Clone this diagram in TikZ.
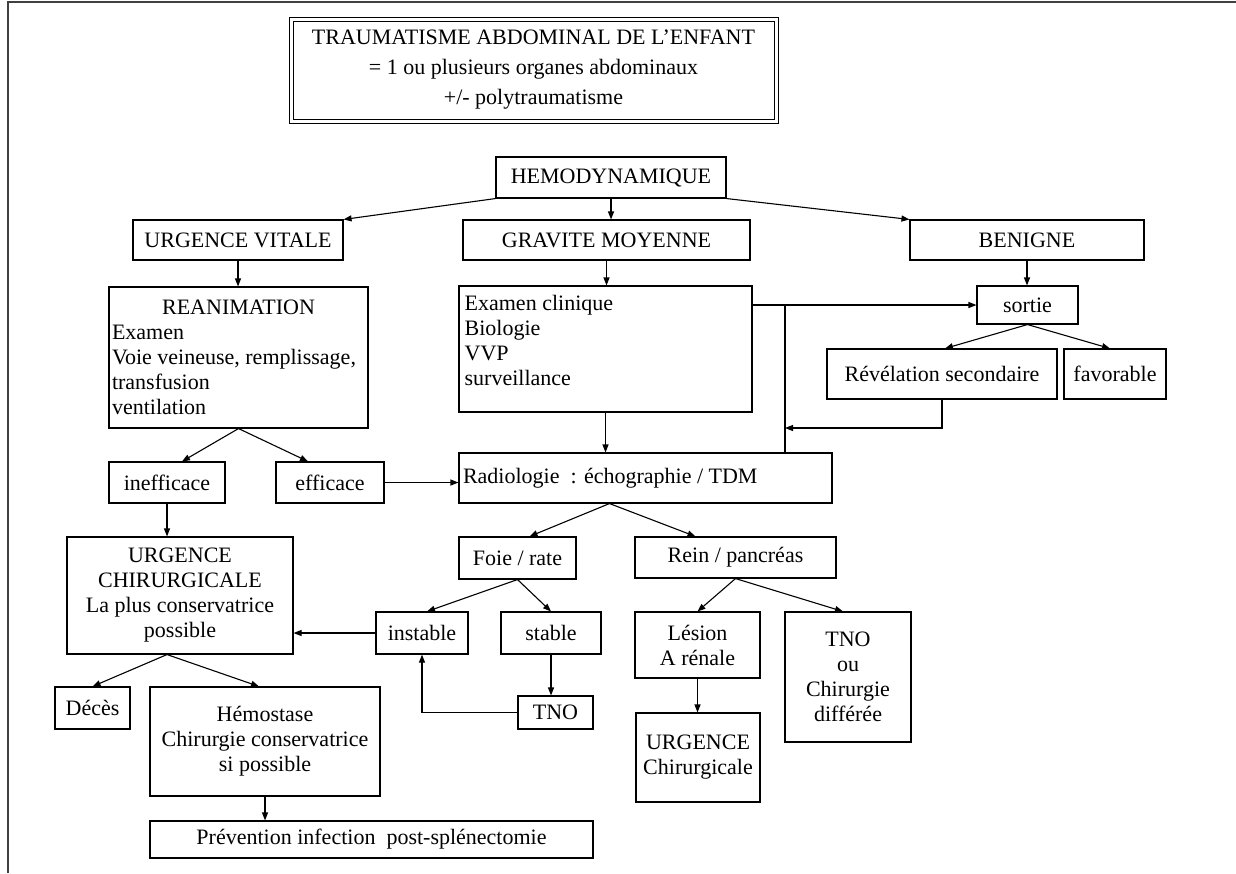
\documentclass[tikz,border=0pt]{standalone}
\usepackage{fontspec}
\setmainfont{Liberation Serif}
\usetikzlibrary{arrows.meta,calc}

\begin{document}
\begin{tikzpicture}[x=1pt, y=-1pt, >={Triangle[length=8pt,width=6pt]},
    every node/.style={font=\fontsize{22}{25}\selectfont},
    box/.style={draw, line width=1.1pt, inner sep=2pt, align=center},
    link/.style={line width=1.1pt, ->}]

    %% Background
    \useasboundingbox (0,0) rectangle (1236,873);
    \draw[line width=1.6pt, black!75] (8,873) -- (8,2) -- (1236,2);

    % Title
    \node[draw, double, double distance=3pt, line width=1pt, minimum width=485pt, minimum height=102pt,
          align=center, font=\fontsize{22}{30}\selectfont] (titre) at (533.5,70)
    {TRAUMATISME ABDOMINAL DE L’ENFANT\\= 1 ou plusieurs organes abdominaux\\+/- polytraumatisme};

    % Hemodynamique
    \node[box, minimum width=230pt, minimum height=41pt] (hemo) at (611,177.5) {HEMODYNAMIQUE};
    \node[box, minimum width=210pt, minimum height=40pt] (vitale) at (238,240) {URGENCE VITALE};
    \node[box, minimum width=287pt, minimum height=40pt] (moyenne) at (606.5,240) {GRAVITE MOYENNE};
    \node[box, minimum width=234pt, minimum height=40pt] (benigne) at (1027,240) {BENIGNE};

    % Prise en charge
    \node[box, text width=253pt, align=flush left, inner sep=3pt, minimum height=141pt] (reanim) at (238.5,357.5)
    {\makebox[\linewidth]{REANIMATION}\\Examen\\Voie veineuse, remplissage,\\transfusion\\ventilation};
    \node[box, minimum width=293pt, minimum height=126pt] (examen) at (605.5,349) {};
    \node[anchor=north west, align=left, inner sep=2pt] (examtxt) at ([shift={(4,8)}]examen.north west)
    {Examen clinique\\Biologie\\VVP\\surveillance};
    \node[box, minimum width=101pt, minimum height=38pt] (sortie) at (1027.5,305) {sortie};
    \node[box, minimum width=230pt, minimum height=50pt] (revel) at (942,374) {Révélation secondaire};
    \node[box, minimum width=102pt, minimum height=50pt] (favo) at (1115,374) {favorable};

    % Evolution
    \node[box, minimum width=116pt, minimum height=41pt] (ineff) at (167,482.5) {inefficace};
    \node[box, minimum width=108pt, minimum height=41pt] (eff) at (330,482.5) {efficace};
    \node[box, text width=365pt, align=flush left, inner sep=4pt, minimum height=50pt] (radio) at (645.5,478)
    {Radiologie\ \ : échographie / TDM};

    % Organes
    \node[box, minimum width=226pt, minimum height=117pt] (urgchir) at (180,595.5)
    {URGENCE\\CHIRURGICALE\\La plus conservatrice\\possible};
    \node[box, minimum width=117pt, minimum height=42pt] (foie) at (517.5,558) {Foie / rate};
    \node[box, minimum width=201pt, minimum height=41pt] (rein) at (735.5,557.5) {Rein / pancréas};
    \node[box, minimum width=92pt, minimum height=42pt] (instable) at (422,633) {instable};
    \node[box, minimum width=100pt, minimum height=42pt] (stable) at (551,633) {stable};
    \node[box, minimum width=125pt, minimum height=66pt] (lesion) at (697.5,645) {Lésion\\A rénale};
    \node[box, minimum width=126pt, minimum height=130pt] (tnochir) at (848,677) {TNO\\ou\\Chirurgie\\différée};
    \node[box, minimum width=75pt, minimum height=33pt] (tno) at (555.5,712.5) {TNO};
    \node[box, minimum width=75pt, minimum height=42pt] (deces) at (92.5,708) {Décès};
    \node[box, minimum width=230pt, minimum height=109pt] (hemostase) at (265,741.5)
    {Hémostase\\Chirurgie conservatrice\\si possible};
    \node[box, minimum width=124pt, minimum height=89pt] (urgrein) at (698,757.5) {URGENCE\\Chirurgicale};
    \node[box, minimum width=443pt, minimum height=37pt] (prevention) at (371.5,839.5)
    {Prévention infection\ \ post-splénectomie};

    % Arrows
    \draw[link] (hemo.south west) -- (vitale.north east);
    \draw[link] (hemo.south) -- (hemo.south |- moyenne.north);
    \draw[link] (hemo.south east) -- (benigne.north west);
    \draw[link] (vitale.south) -- (vitale.south |- reanim.north);
    \draw[link] (moyenne.south) -- (moyenne.south |- examen.north);
    \draw[link] (benigne.south) -- (benigne.south |- sortie.north);
    \draw[link] (sortie.south) -- ([xshift=3pt]revel.north);
    \draw[link] (sortie.south) -- ([xshift=-5pt]favo.north);

    \coordinate (jonction) at (785,305);
    \coordinate (retour) at (785,428);
    \draw[link] (examen.east |- sortie) -- (sortie);
    \draw[line width=1.1pt] (jonction) -- (jonction |- radio.north);
    \draw[link] (revel.south) |- (retour);

    \draw[link] (reanim.south) -- ([xshift=15pt]ineff.north);
    \draw[link] (reanim.south) -- ([xshift=-22pt]eff.north);
    \draw[link] (eff) -- (eff -| radio.west);
    \draw[link] (examen.south) -- (examen.south |- radio.north);
    \draw[link] (ineff.south) -- (ineff.south |- urgchir.north);

    \draw[link] ([xshift=-36pt]radio.south) -- ([xshift=12pt]foie.north);
    \draw[link] ([xshift=-36pt]radio.south) -- ([xshift=-40pt]rein.north);
    \draw[link] (foie.south) -- ([xshift=5pt]instable.north);
    \draw[link] (foie.south) -- (stable.north);
    \draw[link] (instable.west) -- (instable.west -| urgchir.east);
    \draw[link] (stable.south) -- (stable.south |- tno.north);
    \draw[link] (tno.west) -| (instable.south);
    \draw[link] (rein.south) -- (lesion.north);
    \draw[link] (rein.south) -- ([xshift=-5pt]tnochir.north);
    \draw[link] (lesion.south) -- (lesion.south |- urgrein.north);
    \draw[link] ([xshift=-13pt]urgchir.south) -- (deces.north);
    \draw[link] ([xshift=-13pt]urgchir.south) -- ([xshift=-6pt]hemostase.north);
    \draw[link] (hemostase.south) -- (hemostase.south |- prevention.north);

\end{tikzpicture}
\end{document}
